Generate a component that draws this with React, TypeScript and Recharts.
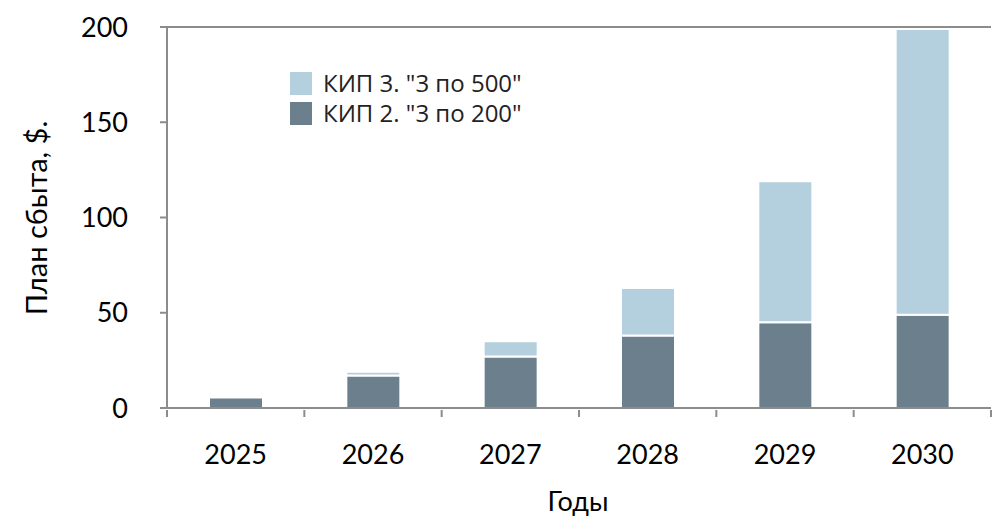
import React from "react";
import { BarChart, Bar, XAxis, YAxis, CartesianGrid, Legend, Label } from "recharts";

// Sales plan by year, two product lines (stacked)
const years = ["2025", "2026", "2027", "2028", "2029", "2030"];
const kip2 = [5.5, 17, 27, 38, 45, 49];
const kip3 = [0, 2, 8, 25, 74, 150];
const yTicks = [0, 50, 100, 150, 200];

const seriesNames = { kip2: 'КИП 2. "3 по 200"', kip3: 'КИП 3. "3 по 500"' };
const DARK = "#6b808c";
const LIGHT = "#b4cfdd";
const AXIS = "#8c8c8c";
const FONT = "Lato, 'Noto Sans', sans-serif";

const data = years.map((y, i) => ({ year: y, kip2: kip2[i], kip3: kip3[i] }));

const W = 1003;
const H = 516;

// X tick: year label plus boundary tick marks between categories
const XTick = (props: any) => {
  const { x, y, payload, index } = props;
  const half = (W - 12 - 167) / years.length / 2;
  return (
    <g>
      <line x1={x - half} x2={x - half} y1={y - 6} y2={y + 1} stroke={AXIS} strokeWidth={2} />
      {index === years.length - 1 && (
        <line x1={x + half} x2={x + half} y1={y - 6} y2={y + 1} stroke={AXIS} strokeWidth={2} />
      )}
      <text x={x} y={y + 48} textAnchor="middle" fontSize={27} fontFamily={FONT} fill="#000">
        {payload.value}
      </text>
    </g>
  );
};

const LegendContent = () => (
  <div style={{ background: "#fff", width: 320, height: 78, boxSizing: "border-box", paddingLeft: 35, paddingTop: 10 }}>
    {[
      { name: seriesNames.kip3, color: LIGHT },
      { name: seriesNames.kip2, color: DARK },
    ].map((it) => (
      <div key={it.name} style={{ display: "flex", alignItems: "center", height: 30 }}>
        <span style={{ width: 22, height: 23, background: it.color, display: "inline-block", marginRight: 11, flexShrink: 0 }} />
        <span style={{ fontFamily: "'Open Sans', 'Noto Sans', sans-serif", fontSize: 24, lineHeight: "30px", color: "#222", whiteSpace: "pre" }}>
          {it.name}
        </span>
      </div>
    ))}
  </div>
);

export default function App() {
  return (
    <div style={{ position: "absolute", left: 0, top: 0, width: W, height: H, background: "#fff" }}>
      <BarChart width={W} height={H} data={data} margin={{ top: 27, right: 12, left: 0, bottom: 0 }} barSize={54}>
        <CartesianGrid vertical={false} stroke={AXIS} strokeWidth={2} />
        <XAxis
          dataKey="year"
          height={108}
          axisLine={{ stroke: AXIS, strokeWidth: 2 }}
          tickLine={false}
          tick={<XTick />}
          interval={0}
        >
          <Label
            content={() => (
              <text x={578} y={511} textAnchor="middle" fontSize={27} fontFamily={FONT} fill="#000">
                Годы
              </text>
            )}
          />
        </XAxis>
        <YAxis
          yAxisId="left"
          width={167}
          domain={[0, 200]}
          ticks={yTicks}
          interval={0}
          axisLine={{ stroke: AXIS, strokeWidth: 2 }}
          tickLine={{ stroke: AXIS, strokeWidth: 2 }}
          tickSize={7}
          tickMargin={32}
          tick={{ fontSize: 27, fontFamily: FONT, fill: "#000" }}
        >
          <Label
            content={() => (
              <text
                x={47}
                y={218}
                transform="rotate(-90 47 218)"
                textAnchor="middle"
                fontSize={29}
                fontFamily={FONT}
                fill="#000"
              >
                План сбыта, $.
              </text>
            )}
          />
        </YAxis>
        <YAxis
          yAxisId="right"
          orientation="right"
          width={0}
          domain={[0, 200]}
          ticks={yTicks}
          tick={false}
          tickLine={false}
          axisLine={{ stroke: AXIS, strokeWidth: 2 }}
        />
        <Legend
          layout="horizontal"
          verticalAlign="middle"
          align="center"
          content={<LegendContent />}
          wrapperStyle={{ position: "absolute", left: 255, top: 58, width: 320, height: 78 }}
        />
        <Bar yAxisId="left" dataKey="kip2" name={seriesNames.kip2} stackId="s" fill={DARK} stroke="#fff" strokeWidth={2} isAnimationActive={false} />
        <Bar yAxisId="left" dataKey="kip3" name={seriesNames.kip3} stackId="s" fill={LIGHT} stroke="#fff" strokeWidth={2} isAnimationActive={false} />
      </BarChart>
    </div>
  );
}
